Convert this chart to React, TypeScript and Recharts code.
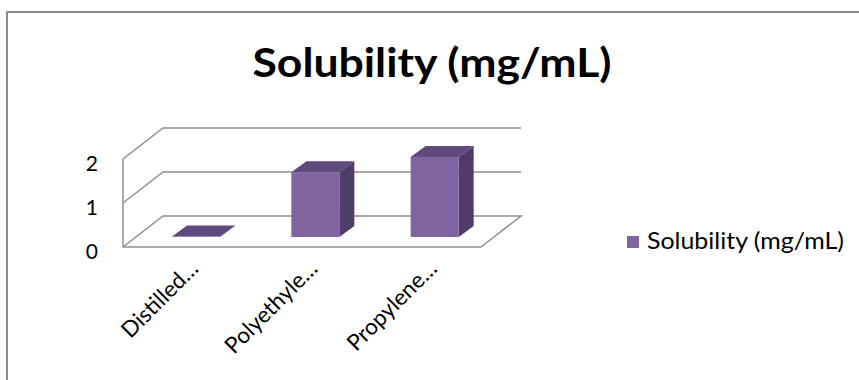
import React from 'react';
import { BarChart, Bar, XAxis, YAxis, CartesianGrid, Legend } from 'recharts';

// Chart values
const categories = ['Distilled…', 'Polyethyle…', 'Propylene…'];
const solubility = [0.01, 1.47, 1.82];
const yTicks = [0, 1, 2];
const seriesName = 'Solubility (mg/mL)';
const chartTitle = 'Solubility (mg/mL)';

const data = categories.map((name, i) => ({ name, value: solubility[i] }));

const FONT = 'Lato, "Open Sans", sans-serif';
const WALL = '#8f8f8f';
const FRONT = '#8064a2';
const TOP = '#5f4a7d';
const SIDE = '#4e3d68';

// oblique projection of the floor / back wall
const DEPTH_X = 40;
const DEPTH_Y = 31;
// bars stand a third of the way into the floor
const BAR_SHIFT_X = 13;
const BAR_SHIFT_Y = 10;
// thickness of each column
const BAR_DX = 15;
const BAR_DY = 11;

function Bar3D(props: any) {
  const { x, y, width, height } = props;
  const fx = x + BAR_SHIFT_X;
  const fy = y - BAR_SHIFT_Y;
  const h = Math.max(height, 0);
  return (
    <g>
      <path
        d={`M${fx},${fy} L${fx + BAR_DX},${fy - BAR_DY} L${fx + width + BAR_DX},${fy - BAR_DY} L${fx + width},${fy} Z`}
        fill={TOP}
      />
      <path
        d={`M${fx + width},${fy} L${fx + width + BAR_DX},${fy - BAR_DY} L${fx + width + BAR_DX},${fy + h - BAR_DY} L${fx + width},${fy + h} Z`}
        fill={SIDE}
      />
      <rect x={fx} y={fy} width={width} height={h} fill={FRONT} />
    </g>
  );
}

// each value line runs along the side wall and then across the back wall;
// the zero line also closes the floor on the right
function WallLine(props: any) {
  const { x1, y1, x2, index } = props;
  const bottom = props.y + props.height;
  const isFloor = Number.isFinite(bottom) ? Math.abs(y1 - bottom) < 0.5 : index === 0;
  const by = y1 - DEPTH_Y;
  let d = `M${x1},${y1} L${x1 + DEPTH_X},${by} L${x2 + DEPTH_X},${by}`;
  if (isFloor) d += ` L${x2},${y1}`;
  return <path key={`wall-${index}`} d={d} fill="none" stroke={WALL} strokeWidth={1.5} />;
}

function YTick(props: any) {
  const { x, y, payload } = props;
  return (
    <text x={x - 17} y={y + 12} textAnchor="end" fontFamily={FONT} fontSize={21} fill="#000">
      {payload.value}
    </text>
  );
}

function XTick(props: any) {
  const { x, y, payload } = props;
  const tx = x + 17;
  const ty = y + 15;
  return (
    <text
      x={tx}
      y={ty}
      textAnchor="end"
      transform={`rotate(-45 ${tx} ${ty})`}
      fontFamily={FONT}
      fontSize={22.5}
      fill="#000"
    >
      {payload.value}
    </text>
  );
}

function LegendBox() {
  return (
    <svg width={230} height={30} style={{ display: 'block' }}>
      <rect x={0} y={9} width={12} height={12} fill={FRONT} />
      <text
        x={20}
        y={22}
        fontFamily={FONT}
        fontSize={23}
        textLength={197}
        lengthAdjust="spacingAndGlyphs"
        fill="#000"
      >
        {seriesName}
      </text>
    </svg>
  );
}

export default function App() {
  return (
    <div style={{ position: 'absolute', left: 0, top: 0, width: 859, height: 380, background: '#fff', overflow: 'hidden' }}>
      <div
        style={{
          position: 'absolute',
          left: 6,
          top: 11,
          width: 853,
          height: 369,
          borderLeft: '2px solid #8a8a8a',
          borderTop: '2px solid #8a8a8a',
          boxSizing: 'border-box',
        }}
      />
      <div style={{ position: 'absolute', left: 0, top: 0 }}>
        <BarChart
          width={859}
          height={380}
          data={data}
          margin={{ top: 159, right: 378, bottom: 73, left: 83 }}
        >
          <text
            x={432}
            y={77}
            textAnchor="middle"
            fontFamily={FONT}
            fontWeight="bold"
            fontSize={40}
            textLength={359}
            lengthAdjust="spacingAndGlyphs"
            fill="#000"
          >
            {chartTitle}
          </text>
          <CartesianGrid horizontal={WallLine as any} vertical={false} />
          <XAxis
            dataKey="name"
            height={60}
            tickLine={false}
            axisLine={{ stroke: WALL, strokeWidth: 1.5 }}
            tick={<XTick />}
            interval={0}
          />
          <YAxis
            width={40}
            domain={[0, 2]}
            ticks={yTicks}
            tickLine={false}
            axisLine={{ stroke: WALL, strokeWidth: 1.5 }}
            tick={<YTick />}
          />
          <Legend
            layout="horizontal"
            verticalAlign="middle"
            align="center"
            content={<LegendBox />}
            wrapperStyle={{ left: 627, top: 227, width: 240, height: 30 }}
          />
          <Bar
            dataKey="value"
            name={seriesName}
            barSize={48}
            fill={FRONT}
            shape={<Bar3D />}
            isAnimationActive={false}
          />
        </BarChart>
      </div>
    </div>
  );
}
